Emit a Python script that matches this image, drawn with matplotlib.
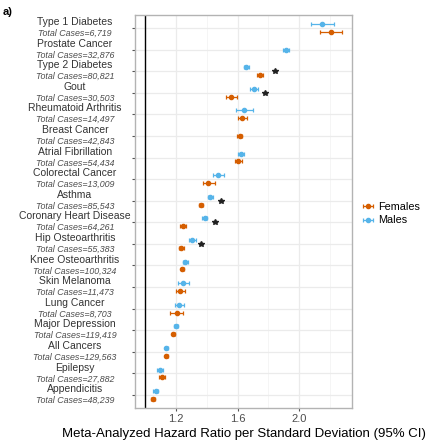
import matplotlib
matplotlib.use("Agg")
import matplotlib.pyplot as plt
from matplotlib.transforms import blended_transform_factory
from matplotlib.ticker import MultipleLocator
import numpy as np

diseases = ["Type 1 Diabetes", "Prostate Cancer", "Type 2 Diabetes", "Gout",
            "Rheumatoid Arthritis", "Breast Cancer", "Atrial Fibrillation",
            "Colorectal Cancer", "Asthma", "Coronary Heart Disease",
            "Hip Osteoarthritis", "Knee Osteoarthritis", "Skin Melanoma",
            "Lung Cancer", "Major Depression", "All Cancers", "Epilepsy",
            "Appendicitis"]
cases = ["6,719", "32,876", "80,821", "30,503", "14,497", "42,843", "54,434",
         "13,009", "85,543", "64,261", "55,383", "100,324", "11,473", "8,703",
         "119,419", "129,563", "27,882", "48,239"]

# hazard ratios and 95% CI (None = sex not analysed)
male_hr = [2.152, 1.913, 1.657, 1.707, 1.644, None, 1.623, 1.475, 1.423, 1.386,
           1.306, 1.261, 1.246, 1.222, 1.200, 1.137, 1.094, 1.068]
male_lo = [2.080, 1.894, 1.642, 1.683, 1.592, None, 1.605, 1.441, 1.408, 1.371,
           1.287, 1.248, 1.215, 1.191, 1.185, 1.130, 1.074, 1.053]
male_hi = [2.226, 1.935, 1.675, 1.733, 1.699, None, 1.642, 1.514, 1.441, 1.404,
           1.328, 1.276, 1.285, 1.254, 1.215, 1.146, 1.113, 1.085]
female_hr = [2.206, None, 1.746, 1.560, 1.631, 1.614, 1.601, 1.410, 1.365, 1.246,
             1.235, 1.241, 1.228, 1.204, 1.180, 1.137, 1.109, 1.048]
female_lo = [2.137, None, 1.729, 1.525, 1.601, 1.599, 1.584, 1.374, 1.352, 1.228,
             1.222, 1.231, 1.198, 1.163, 1.172, 1.128, 1.087, 1.037]
female_hi = [2.282, None, 1.766, 1.597, 1.664, 1.629, 1.627, 1.452, 1.378, 1.265,
             1.250, 1.252, 1.261, 1.248, 1.191, 1.148, 1.130, 1.061]
# sex-difference marks
star_rows = ["Type 2 Diabetes", "Gout", "Asthma", "Coronary Heart Disease", "Hip Osteoarthritis"]
star_x = [1.842, 1.781, 1.490, 1.452, 1.360]

ORANGE = "#D55E00"
BLUE = "#56B4E9"

n = len(diseases)
ypos = {d: n - 1 - i for i, d in enumerate(diseases)}

plt.rcParams["font.family"] = ["Liberation Sans", "DejaVu Sans"]
fig = plt.figure(figsize=(4.28, 4.40), dpi=100)
ax = fig.add_axes([135/428, 1 - 408/440, 217/428, 393/440])

def draw(hr, lo, hi, color, off, label):
    first = True
    for i, d in enumerate(diseases):
        if hr[i] is None:
            continue
        both = male_hr[i] is not None and female_hr[i] is not None
        y = ypos[d] + (off if both else 0)
        ax.errorbar(hr[i], y, xerr=[[hr[i] - lo[i]], [hi[i] - hr[i]]], fmt="o",
                    color=color, ms=3.0, lw=0.9, capsize=1.5, capthick=0.9,
                    label=label if first else None, zorder=3)
        first = False

draw(female_hr, female_lo, female_hi, ORANGE, -0.18, "Females")
draw(male_hr, male_lo, male_hi, BLUE, 0.18, "Males")

for d, x in zip(star_rows, star_x):
    ax.plot(x, ypos[d], marker="*", color="#222222", ms=4.2, ls="none", zorder=3)

ax.axvline(1.0, color="black", lw=1.0, zorder=2)

ax.set_xlim(0.933, 2.345)
ax.set_ylim(-0.6, n - 0.4)
ax.set_xticks([1.2, 1.6, 2.0])
ax.xaxis.set_minor_locator(MultipleLocator(0.2))
ax.set_yticks(range(n))
ax.set_yticklabels([])
ax.grid(which="major", color="#EBEBEB", lw=0.9, zorder=0)
ax.grid(which="minor", axis="x", color="#F2F2F2", lw=0.5, zorder=0)
ax.set_axisbelow(True)
ax.tick_params(axis="both", which="major", length=2.5, color="#555555",
               labelsize=8, labelcolor="#4D4D4D", pad=2)
ax.tick_params(axis="x", which="minor", length=0)
for s in ax.spines.values():
    s.set_color("#B3B3B3")
    s.set_linewidth(1.0)

tr = blended_transform_factory(fig.transFigure, ax.transData)
for d, c in zip(diseases, cases):
    y = ypos[d]
    ax.text(75/428, y + 0.27, d, transform=tr, ha="center", va="center",
            fontsize=7.5, color="#333333")
    ax.text(75/428, y - 0.25, f"Total Cases={c}", transform=tr, ha="center",
            va="center", fontsize=6.4, style="italic", color="#4D4D4D")

ax.set_xlabel("Meta-Analyzed Hazard Ratio per Standard Deviation (95% CI)",
              fontsize=9.5, labelpad=3)

leg = ax.legend(loc="center left", bbox_to_anchor=(362/428, 0.515),
                bbox_transform=fig.transFigure, frameon=False, borderpad=0,
                borderaxespad=0, fontsize=7.8, handlelength=1.1,
                handletextpad=0.4, labelspacing=0.35)

fig.text(0.005, 0.985, "a)", fontsize=8, fontweight="bold", va="top", ha="left")

fig.savefig("out.png", dpi=100)
